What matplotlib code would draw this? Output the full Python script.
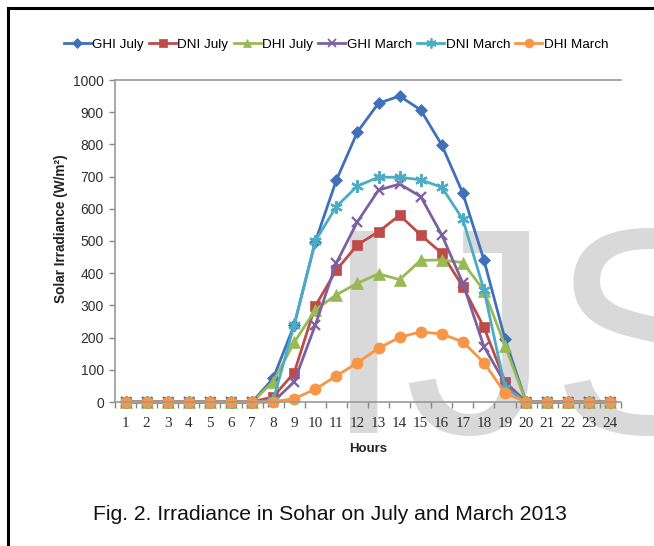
import matplotlib
matplotlib.use("Agg")
import matplotlib.pyplot as plt
from matplotlib.lines import Line2D
from matplotlib.ticker import FixedLocator

SANS = "Liberation Sans"
SERIF = "Liberation Serif"

hours = list(range(1, 25))
ghi_july = [0, 0, 0, 0, 0, 0, 0, 73, 239, 498, 689, 839, 928, 950, 907, 798, 648, 441, 195, 0, 0, 0, 0, 0]
dni_july = [0, 0, 0, 0, 0, 0, 0, 16, 91, 298, 410, 488, 529, 580, 519, 462, 358, 232, 63, 0, 0, 0, 0, 0]
dhi_july = [0, 0, 0, 0, 0, 0, 0, 63, 185, 286, 333, 369, 398, 380, 440, 441, 433, 346, 175, 0, 0, 0, 0, 0]
ghi_march = [0, 0, 0, 0, 0, 0, 0, 0, 63, 239, 432, 560, 658, 677, 638, 519, 369, 172, 58, 0, 0, 0, 0, 0]
dni_march = [0, 0, 0, 0, 0, 0, 0, 5, 239, 500, 607, 671, 698, 698, 690, 667, 567, 348, 45, 0, 0, 0, 0, 0]
dhi_march = [0, 0, 0, 0, 0, 0, 0, 1, 10, 40, 81, 122, 167, 201, 218, 211, 187, 122, 28, 0, 0, 0, 0, 0]

series = [
    ("GHI July", ghi_july, "#4070B8", "D", 6.5),
    ("DNI July", dni_july, "#BE4B48", "s", 7.5),
    ("DHI July", dhi_july, "#98B954", "^", 8),
    ("GHI March", ghi_march, "#7D60A0", "x", 7),
    ("DNI March", dni_march, "#4AACC5", (6, 2, 0), 9),
    ("DHI March", dhi_march, "#F79646", "o", 8),
]

W, H = 654, 546
fig = plt.figure(figsize=(W / 100, H / 100), dpi=100)
fig.patch.set_facecolor("white")

# watermark
fig.text(323 / W, 1 - 433 / H, "IJSER", fontsize=211, family=SANS,
         color="#d9d9d9", va="baseline", ha="left", zorder=0)

# frame lines
fig.add_artist(Line2D([8 / W, 1.0], [1 - 8 / H, 1 - 8 / H], color="black", lw=2.2, transform=fig.transFigure))
fig.add_artist(Line2D([8 / W, 8 / W], [0, 1 - 8 / H], color="black", lw=2.2, transform=fig.transFigure))

left, right, top, bottom = 115, 621, 80, 402
ax = fig.add_axes([left / W, 1 - bottom / H, (right - left) / W, (bottom - top) / H])
ax.patch.set_alpha(0)
ax.set_zorder(2)

for name, vals, col, mk, ms in series:
    mew = 1.6 if mk in ("x", (6, 2, 0)) else 0.5
    ax.plot(hours, vals, color=col, lw=2.0, marker=mk, markersize=ms,
            markerfacecolor=col, markeredgecolor=col, markeredgewidth=mew,
            label=name, clip_on=False)

ax.set_xlim(0.5, 24.5)
ax.set_ylim(0, 1000)
ax.set_yticks(range(0, 1001, 100))
ax.set_xticks(hours)
ax.xaxis.set_minor_locator(FixedLocator([x + 0.5 for x in range(0, 25)]))
ax.tick_params(axis="x", which="major", length=0, pad=11, labelsize=11, labelcolor="#303030")
ax.tick_params(axis="x", which="minor", length=4, color="#868686", width=1)
ax.tick_params(axis="y", length=4, color="#868686", width=1, pad=4, labelsize=10, labelcolor="#303030")
for lab in ax.get_xticklabels():
    lab.set_family(SERIF)
for lab in ax.get_yticklabels():
    lab.set_family(SANS)

for s in ("left", "bottom", "top"):
    ax.spines[s].set_color("#9a9a9a")
    ax.spines[s].set_linewidth(1.2)
ax.spines["right"].set_visible(False)

fig.text(61 / W, 1 - 229 / H, "Solar Irradiance (W/m²)", rotation=90, ha="center", va="center",
         fontsize=9.8, fontweight="bold", family=SANS, color="#222222")
fig.text(368 / W, 1 - 449 / H, "Hours", ha="center", va="center",
         fontsize=9.5, fontweight="bold", family=SANS, color="#222222")
fig.text(330 / W, 1 - 515 / H, "Fig. 2. Irradiance in Sohar on July and March 2013",
         ha="center", va="center", fontsize=15.2, family=SANS, color="#111111")

leg_handles = []
for name, vals, col, mk, ms in series:
    mew = 1.3 if mk in ("x", (6, 2, 0)) else 0.5
    leg_handles.append(Line2D([], [], color=col, lw=2.0, marker=mk, markersize=ms * 0.8,
                              markerfacecolor=col, markeredgecolor=col, markeredgewidth=mew))
fig.legend(leg_handles, [s[0] for s in series], loc="center", ncol=6,
           bbox_to_anchor=(336 / W, 1 - 45 / H), frameon=False, handlelength=2.0,
           handletextpad=0.1, columnspacing=0.4, borderaxespad=0,
           prop={"family": SANS, "size": 9.7})

fig.savefig("out.png", dpi=100)
